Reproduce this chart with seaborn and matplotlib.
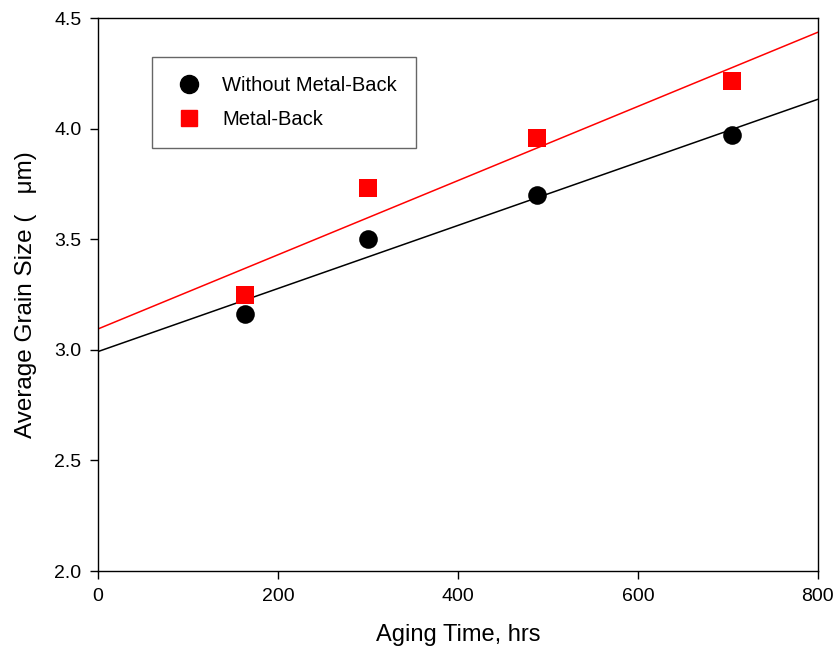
import matplotlib
matplotlib.use("Agg")
import matplotlib.pyplot as plt
import seaborn as sns
import pandas as pd
from matplotlib.lines import Line2D

# Aging time (hrs) and measured average grain size (um)
aging_hours = [163, 300, 488, 705]
grain_without_mb = [3.16, 3.50, 3.70, 3.97]
grain_metal_back = [3.25, 3.73, 3.96, 4.215]
series_names = ["Without Metal-Back", "Metal-Back"]
x_ticks = [0, 200, 400, 600, 800]
y_ticks = [2.0, 2.5, 3.0, 3.5, 4.0, 4.5]

df = pd.DataFrame({
    "time": aging_hours * 2,
    "size": grain_without_mb + grain_metal_back,
    "series": [series_names[0]] * 4 + [series_names[1]] * 4,
})

sns.set_style("white")
plt.rcParams["font.family"] = ["Liberation Sans", "DejaVu Sans"]
plt.rcParams["text.color"] = "black"
plt.rcParams["axes.labelcolor"] = "black"

fig = plt.figure(figsize=(8.4, 6.67), dpi=100)
ax = fig.add_axes([0.1167, 0.1439, 0.857, 0.829])
ax.set_xlim(0, 800)
ax.set_ylim(2.0, 4.5)

colors = {series_names[0]: "black", series_names[1]: "#ff0000"}

# linear fits spanning the full time axis
for name in series_names:
    sub = df[df["series"] == name]
    sns.regplot(data=sub, x="time", y="size", ax=ax, scatter=False,
                ci=None, truncate=False, color=colors[name],
                line_kws={"linewidth": 1.1, "zorder": 2})

sns.scatterplot(data=df[df["series"] == series_names[0]], x="time", y="size",
                ax=ax, color="black", marker="o", s=180, edgecolor="black",
                linewidth=0, zorder=3, legend=False)
sns.scatterplot(data=df[df["series"] == series_names[1]], x="time", y="size",
                ax=ax, color="#ff0000", marker="s", s=150, edgecolor="#ff0000",
                linewidth=0, zorder=3, legend=False)

ax.set_xlim(0, 800)
ax.set_ylim(2.0, 4.5)
ax.set_xticks(x_ticks)
ax.set_yticks(y_ticks)
ax.set_xticklabels([str(v) for v in x_ticks])
ax.set_yticklabels([f"{v:.1f}" for v in y_ticks])
ax.tick_params(axis="both", which="both", direction="out", length=6,
               width=1, colors="black", labelsize=14, pad=6,
               bottom=True, left=True, top=False, right=False)

for sp in ax.spines.values():
    sp.set_color("black")
    sp.set_linewidth(1.0)

ax.set_xlabel("Aging Time, hrs", fontsize=17, labelpad=14)
ax.set_ylabel("Average Grain Size (   \u03bcm)", fontsize=17.5, labelpad=12)

handles = [
    Line2D([], [], linestyle="none", marker="o", markersize=13,
           markerfacecolor="black", markeredgecolor="black"),
    Line2D([], [], linestyle="none", marker="s", markersize=11,
           markerfacecolor="#ff0000", markeredgecolor="#ff0000"),
]
leg = ax.legend(handles, series_names, loc="upper left",
                bbox_to_anchor=(0.075, 0.929), fontsize=14.5, frameon=True,
                fancybox=False, shadow=False, borderpad=0.95,
                labelspacing=0.72, handletextpad=0.72, borderaxespad=0,
                handlelength=1.8)
leg.get_frame().set_edgecolor("#404040")
leg.get_frame().set_linewidth(1.0)
for t in leg.get_texts():
    t.set_color("black")

fig.savefig("out.png", dpi=100)
